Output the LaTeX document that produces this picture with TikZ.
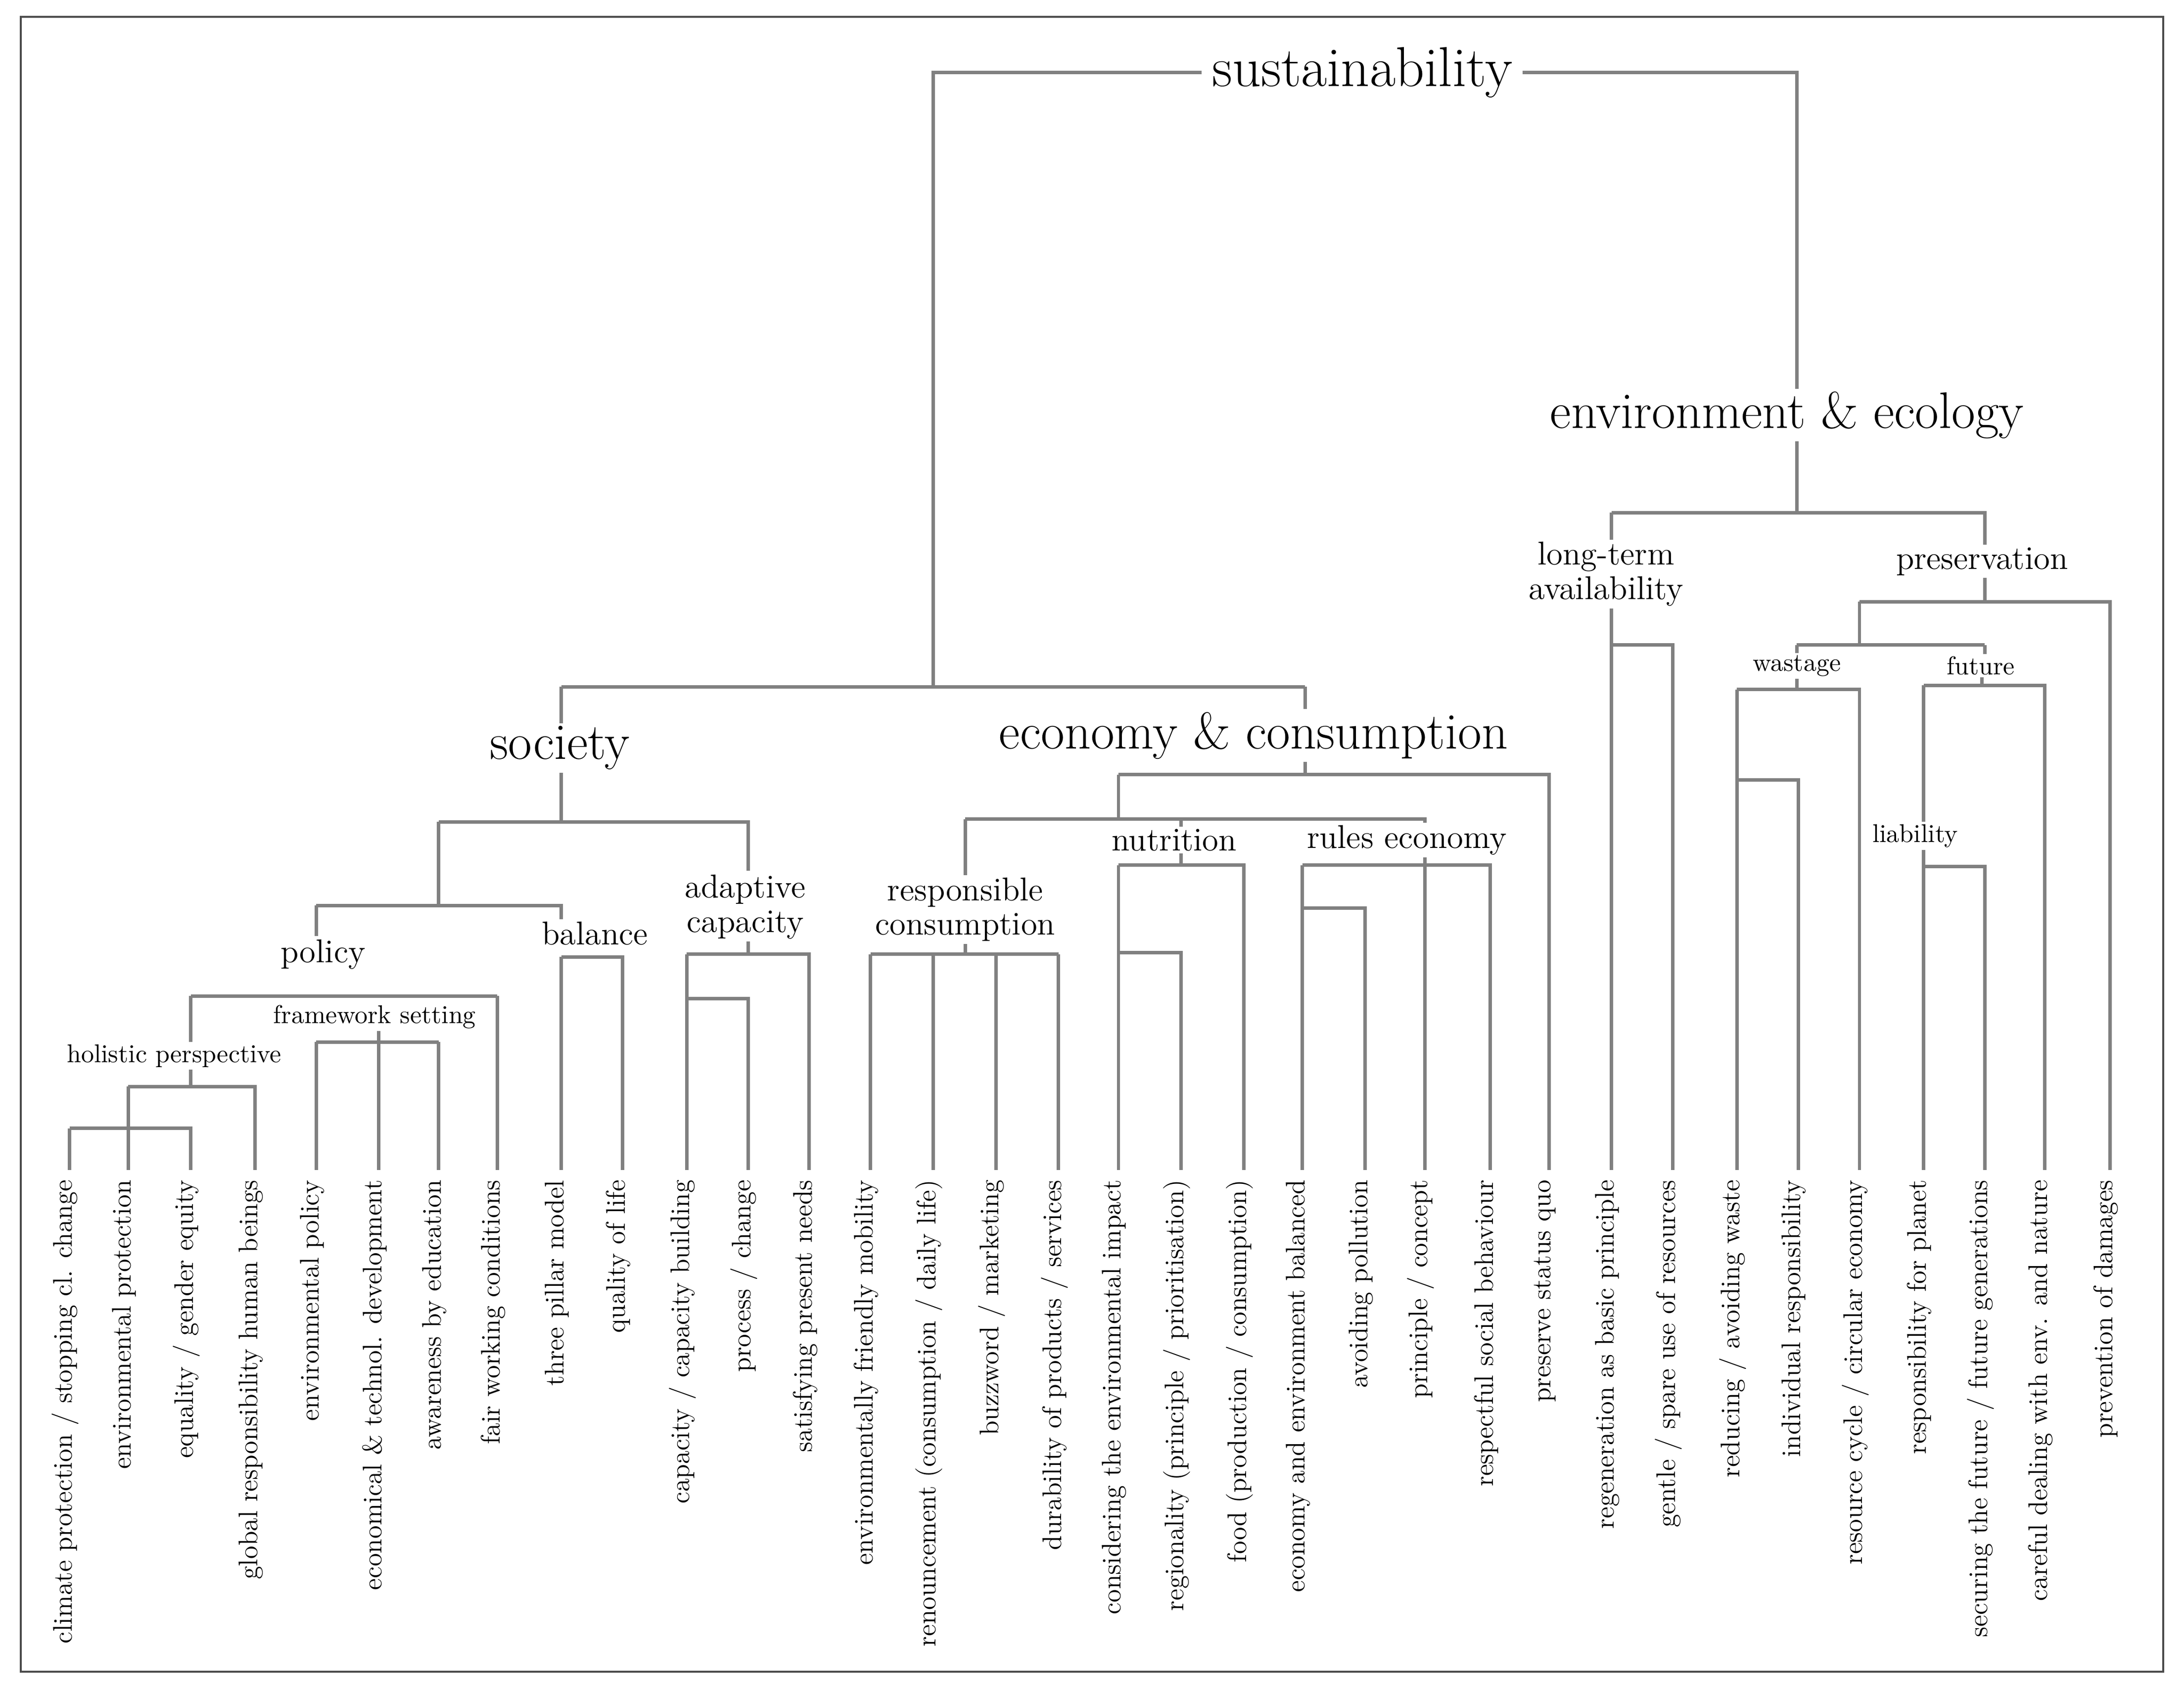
\documentclass[tikz,border=0pt]{standalone}
\begin{document}
\begin{tikzpicture}[x=0.02cm,y=-0.02cm,
  ln/.style={draw=black!50,line width=1.4pt},
  leaf/.style={rotate=90,anchor=east,font=\fontsize{11}{13}\selectfont,inner sep=1pt},
  big/.style={font=\fontsize{21}{24}\selectfont,inner sep=1pt},
  mid/.style={font=\fontsize{13.5}{16}\selectfont,inner sep=1pt,align=center,fill=white},
  sml/.style={font=\fontsize{10.5}{12}\selectfont,inner sep=1pt,fill=white}]
\useasboundingbox (0,0) rectangle (1568,1213);
\draw[black!70,line width=0.9pt] (15,12) rectangle (1553,1200);
% labels
\node[big,font=\fontsize{23}{26}\selectfont,inner xsep=4pt] (sus) at (978,52) {sustainability};
\node[big] (soc) at (402,537) {society};
\node[big] (eco) at (900,528) {economy \& consumption};
\node[big] (env) at (1283,298) {environment \& ecology};
% leaves
\foreach \n/\x/\t in {
 l1/50/{climate protection / stopping cl. change},
 l2/92/{environmental protection},
 l3/137/{equality / gender equity},
 l4/183/{global responsibility human beings},
 l5/227/{environmental policy},
 l6/272/{economical \& technol. development},
 l7/315/{awareness by education},
 l8/357/{fair working conditions},
 l9/403/{three pillar model},
 l10/447/{quality of life},
 l11/493/{capacity / capacity building},
 l12/537/{process / change},
 l13/581/{satisfying present needs},
 l14/625/{environmentally friendly mobility},
 l15/670/{renouncement (consumption / daily life)},
 l16/715/{buzzword / marketing},
 l17/760/{durability of products / services},
 l18/803/{considering the environmental impact},
 l19/848/{regionality (principle / prioritisation)},
 l20/893/{food (production / consumption)},
 l21/935/{economy and environment balanced},
 l22/980/{avoiding pollution},
 l23/1023/{principle / concept},
 l24/1070/{respectful social behaviour},
 l25/1112/{preserve status quo},
 l26/1157/{regeneration as basic principle},
 l27/1201/{gentle / spare use of resources},
 l28/1247/{reducing / avoiding waste},
 l29/1291/{individual responsibility},
 l30/1335/{resource cycle / circular economy},
 l31/1381/{responsibility for planet},
 l32/1425/{securing the future / future generations},
 l33/1468/{careful dealing with env. and nature},
 l34/1515/{prevention of damages}}
 {\node[leaf] (\n) at (\x-3,845) {\t};}
% root
\draw[ln] (sus.west) -- (670,52) -- (670,493);
\draw[ln] (sus.east) -- (1290,52) -- (env.north -| 1290,0);
\draw[ln] (403,493) -- (937,493);
\draw[ln] (403,493) -- (soc.north -| 403,0);
\draw[ln] (937,493) -- (eco.north -| 937,0);
% society
\draw[ln] (soc.south -| 403,0) -- (403,590);
\draw[ln] (315,590) -- (537,590) -- (537,625);
\draw[ln] (315,590) -- (315,650);
\draw[ln] (227,650) -- (403,650) -- (403,660);
\draw[ln] (227,650) -- (227,672);
\draw[ln] (137,715) -- (357,715);
\draw[ln] (357,715) -- (357,840);
\draw[ln] (137,715) -- (137,750);
\draw[ln] (272,725) -- (272,840);
\draw[ln] (227,748) -- (315,748);
\draw[ln] (227,748) -- (227,840);
\draw[ln] (315,748) -- (315,840);
\draw[ln] (137,760) -- (137,780);
\draw[ln] (92,780) -- (183,780) -- (183,840);
\draw[ln] (92,780) -- (92,840);
\draw[ln] (50,810) -- (137,810) -- (137,840);
\draw[ln] (50,810) -- (50,840);
\draw[ln] (403,687) -- (447,687) -- (447,840);
\draw[ln] (403,687) -- (403,840);
\draw[ln] (537,665) -- (537,685);
\draw[ln] (493,685) -- (581,685) -- (581,840);
\draw[ln] (493,685) -- (493,840);
\draw[ln] (493,717) -- (537,717) -- (537,840);
% economy
\draw[ln] (eco.south -| 937,0) -- (937,556);
\draw[ln] (803,556) -- (1112,556) -- (1112,840);
\draw[ln] (803,556) -- (803,588);
\draw[ln] (693,588) -- (1023,588) -- (1023,840);
\draw[ln] (693,588) -- (693,630);
\draw[ln] (848,588) -- (848,600);
\draw[ln] (693,665) -- (693,685);
\draw[ln] (625,685) -- (760,685);
\foreach \x in {625,670,715,760} \draw[ln] (\x,685) -- (\x,840);
\draw[ln] (848,605) -- (848,621);
\draw[ln] (803,621) -- (893,621) -- (893,840);
\draw[ln] (803,621) -- (803,840);
\draw[ln] (803,684) -- (848,684) -- (848,840);
\draw[ln] (935,621) -- (1070,621) -- (1070,840);
\draw[ln] (935,621) -- (935,840);
\draw[ln] (935,652) -- (980,652) -- (980,840);
% environment
\draw[ln] (env.south -| 1290,0) -- (1290,368);
\draw[ln] (1157,368) -- (1425,368) -- (1425,395);
\draw[ln] (1157,368) -- (1157,395);
\draw[ln] (1157,420) -- (1157,840);
\draw[ln] (1157,463) -- (1201,463) -- (1201,840);
\draw[ln] (1425,405) -- (1425,432);
\draw[ln] (1335,432) -- (1515,432) -- (1515,840);
\draw[ln] (1335,432) -- (1335,463);
\draw[ln] (1290,463) -- (1425,463);
\draw[ln] (1290,463) -- (1290,478);
\draw[ln] (1425,463) -- (1425,478);
\draw[ln] (1290,478) -- (1290,495);
\draw[ln] (1247,495) -- (1335,495) -- (1335,840);
\draw[ln] (1247,495) -- (1247,840);
\draw[ln] (1247,560) -- (1291,560) -- (1291,840);
\draw[ln] (1423,478) -- (1423,492);
\draw[ln] (1381,492) -- (1468,492) -- (1468,840);
\draw[ln] (1381,492) -- (1381,840);
\draw[ln] (1381,622) -- (1425,622) -- (1425,840);
% labels drawn over lines
\node[mid] (pol) at (232,685) {policy};
\node[mid] (bal) at (427,670) {balance};
\node[mid] (ada) at (535,651) {adaptive\\[-2pt]capacity};
\node[mid] (rc) at (693,653) {responsible\\[-2pt]consumption};
\node[mid] (nut) at (843,603) {nutrition};
\node[mid] (rul) at (1010,603) {rules economy};
\node[mid] (lta) at (1153,412) {long-term\\[-2pt]availability};
\node[mid] (pre) at (1423,403) {preservation};
\node[sml] (fw) at (269,730) {framework setting};
\node[sml] (hol) at (125,758) {holistic perspective};
\node[sml] (was) at (1290,478) {wastage};
\node[sml] (fut) at (1422,478) {future};
\node[sml] (lia) at (1375,600) {liability};
\end{tikzpicture}
\end{document}
